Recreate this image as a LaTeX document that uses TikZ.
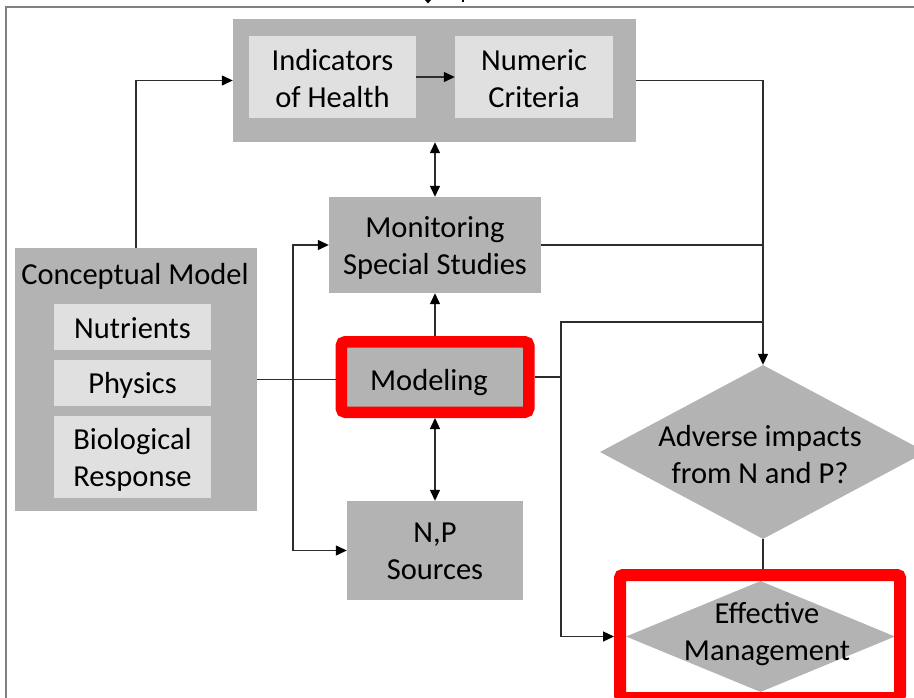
\documentclass[tikz,border=0pt]{standalone}
\usepackage{fontspec}
\setmainfont{Carlito}
\usetikzlibrary{shapes.geometric,arrows.meta}
\definecolor{boxgray}{RGB}{179,179,179}
\definecolor{innergray}{RGB}{224,224,224}
\definecolor{linegray}{RGB}{45,45,45}
\definecolor{framegray}{RGB}{128,128,128}
\tikzset{
  every node/.style={font=\fontsize{30.5}{37}\selectfont, align=center, text=black},
  graybox/.style={rectangle, fill=boxgray, inner sep=0pt},
  lightbox/.style={rectangle, fill=innergray, inner sep=0pt},
  redframe/.style={rectangle, rounded corners=4pt, draw=red, line width=11.5pt, inner sep=0pt},
  decision/.style={diamond, fill=boxgray, inner sep=0pt},
  conn/.style={draw=linegray, line width=1.3pt},
  arr/.style={conn, -{Triangle[length=11pt,width=10pt,color=black]}},
  darr/.style={conn, {Triangle[length=11pt,width=10pt,color=black]}-{Triangle[length=11pt,width=10pt,color=black]}},
}
\begin{document}
\begin{tikzpicture}[x=1pt,y=-1pt]
\useasboundingbox (0,0) rectangle (914,698);
\clip (0,0) rectangle (914,698);

% page frame and cut-off marks at the top
\draw[framegray, line width=2pt] (5,7.5) -- (914,7.5);
\draw[framegray, line width=2pt] (6,7.5) -- (6,698);
\fill[black] (425,0) -- (431,0) -- (428,3.5) -- cycle;
\draw[black, line width=1.5pt] (463,0) -- (463,2.5);

% health indicators and criteria
\node[graybox, minimum width=403pt, minimum height=123pt] (top) at (434.5,80.5) {};
\node[lightbox, minimum width=167pt, minimum height=82pt] (ind) at (332.5,77) {};
\node (indt) at (332.5,79) {Indicators\\of Health};
\node[lightbox, minimum width=158pt, minimum height=82pt] (num) at (534,77) {};
\node (numt) at (534,79) {Numeric\\Criteria};

% monitoring, modeling, sources
\node[graybox, minimum width=212pt, minimum height=96pt] (mon) at (435,245) {};
\node (mont) at (435,247.5) {Monitoring\\Special Studies};
\node[graybox, minimum width=176pt, minimum height=60pt] (mod) at (435,377) {};
\node (modt) at (429,383) {Modeling};
\node[redframe, minimum width=187.5pt, minimum height=70.5pt] (modf) at (435,377) {};
\node[graybox, minimum width=176pt, minimum height=99pt] (np) at (435,550.5) {};
\node (npt) at (435,551) {N,P\\Sources};

% conceptual model
\node[graybox, minimum width=242pt, minimum height=263pt] (cm) at (136,379.5) {};
\node (cmt) at (135,276) {Conceptual Model};
\node[lightbox, minimum width=157pt, minimum height=46pt] (nut) at (132.5,327) {};
\node (nutt) at (132.5,328) {Nutrients};
\node[lightbox, minimum width=157pt, minimum height=46pt] (phy) at (132.5,383) {};
\node (phyt) at (132.5,385.5) {Physics};
\node[lightbox, minimum width=157pt, minimum height=82pt] (bio) at (132.5,457) {};
\node (biot) at (132.5,459.5) {Biological\\Response};

% decisions
\node[decision, minimum width=326pt, minimum height=174pt] (adv) at (763,452) {};
\node (advt) at (760,455) {Adverse impacts\\from N and P?};
\node[decision, minimum width=269pt, minimum height=111pt] (em) at (760.5,636.5) {};
\node (emt) at (767,634.5) {Effective\\Management};
\node[redframe, rounded corners=3pt, line width=12pt, minimum width=280pt, minimum height=123pt] (emf) at (760,636.5) {};

% junction points
\coordinate (sp) at (293,379.5);
\coordinate (br) at (561,377);
\coordinate (j2) at (763,322);

% connectors
\draw[arr] (cm.north) |- (top.west);
\draw[arr] (ind.east) -- (num.west);
\draw[darr] (top.south -| mon.north) -- (mon.north);
\draw[arr] (modf.north) -- (mon.south);
\draw[darr] (modf.south) -- (np.north);
\draw[conn] (cm.east |- sp) -- (modf.west |- sp);
\draw[arr] (sp) |- (mon.west);
\draw[arr] (sp) |- (np.west);
\draw[arr] (top.east) -| (adv.north);
\draw[conn] (mon.east) -- (mon.east -| adv.north);
\draw[conn] (modf.east) -- (br);
\draw[conn] (br) |- (j2);
\draw[arr] (br) |- (emf.west |- em.west);
\draw[conn] (adv.south) -- (emf.north -| adv.south);
\end{tikzpicture}
\end{document}
